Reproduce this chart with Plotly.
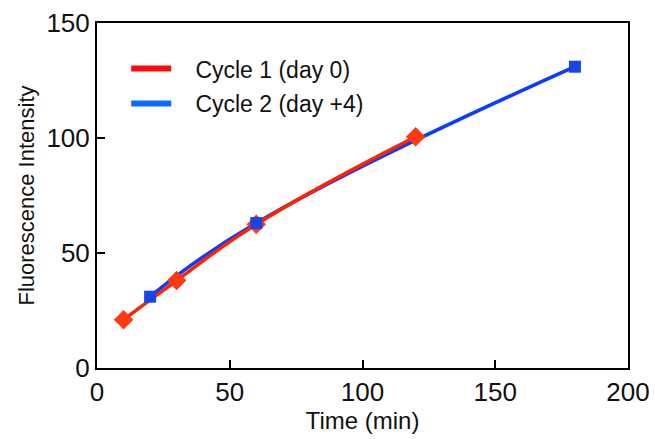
import plotly.graph_objects as go

# Measured fluorescence over time for two cycles
cycle1_time = [10, 30, 60, 120]
cycle1_intensity = [21, 38, 62.5, 100.5]

cycle2_time = [20, 60, 180]
cycle2_intensity = [31, 63, 131]

x_ticks = [0, 50, 100, 150, 200]
y_ticks = [0, 50, 100, 150]

FONT = "Liberation Sans, Arial, sans-serif"
RED_LINE = "#ff2200"
RED_MARK = "#ff3a10"
BLUE_LINE = "#0a3cff"
BLUE_MARK = "#1845e8"

fig = go.Figure()

# Smooth trend lines through each cycle's points
fig.add_trace(go.Scatter(
    x=cycle2_time, y=cycle2_intensity, mode="lines",
    line=dict(color=BLUE_LINE, width=3.5, shape="spline", smoothing=1.3),
    showlegend=False, hoverinfo="skip"))
fig.add_trace(go.Scatter(
    x=cycle1_time, y=cycle1_intensity, mode="lines",
    line=dict(color=RED_LINE, width=3.5, shape="spline", smoothing=1.3),
    showlegend=False, hoverinfo="skip"))

# Data markers
fig.add_trace(go.Scatter(
    x=cycle1_time, y=cycle1_intensity, mode="markers",
    marker=dict(symbol="diamond", size=15, color=RED_MARK),
    showlegend=False))
fig.add_trace(go.Scatter(
    x=cycle2_time, y=cycle2_intensity, mode="markers",
    marker=dict(symbol="square", size=12, color=BLUE_MARK),
    showlegend=False))

# Legend entries
NBSP = "\u00a0"
fig.add_trace(go.Scatter(
    x=[None], y=[None], mode="lines", name=NBSP * 3 + "Cycle 1 (day 0)",
    legendgroup="c1", line=dict(color="#ff0a0a", width=6)))
fig.add_trace(go.Scatter(
    x=[None], y=[None], mode="lines", name=NBSP * 3 + "Cycle 2 (day +4)",
    legendgroup="c2", line=dict(color="#0a6cff", width=6)))

axis_common = dict(
    showline=True, linecolor="black", linewidth=2, mirror=True,
    ticks="inside", ticklen=8, tickwidth=1.5, tickcolor="black",
    showgrid=False, zeroline=False, automargin=False,
    tickfont=dict(family=FONT, size=26, color="#111111"),
)

fig.update_xaxes(
    range=[0, 200], tickvals=x_ticks,
    title=dict(text="Time (min)", standoff=2,
               font=dict(family=FONT, size=24, color="#111111")),
    **axis_common)
fig.update_yaxes(
    range=[0, 150], tickvals=y_ticks,
    title=dict(text="Fluorescence Intensity", standoff=6,
               font=dict(family=FONT, size=22, color="#111111")),
    **axis_common)

fig.update_layout(
    width=655, height=439,
    margin=dict(l=97, r=27, t=23, b=71),
    paper_bgcolor="white", plot_bgcolor="white",
    legend=dict(
        x=0.055, y=0.93, xanchor="left", yanchor="top",
        bgcolor="rgba(0,0,0,0)",
        font=dict(family=FONT, size=23, color="#111111"),
        itemwidth=40, traceorder="grouped", tracegroupgap=2,
    ),
)

fig.write_html("out.html")
